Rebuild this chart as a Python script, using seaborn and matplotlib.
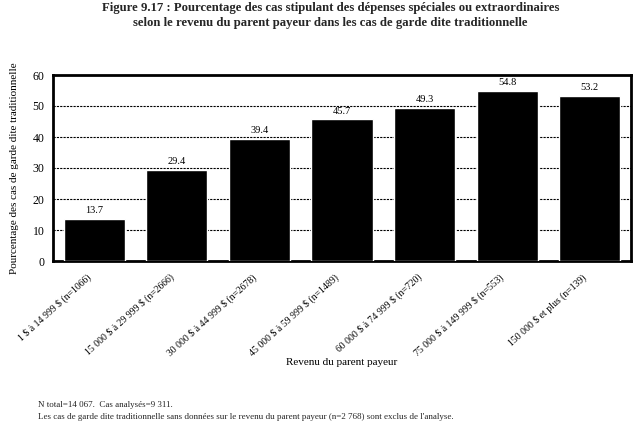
import matplotlib
matplotlib.use("Agg")
import matplotlib.pyplot as plt
import matplotlib.transforms as mtransforms
import seaborn as sns
import pandas as pd

categories = [
    "1 $ à 14 999 $ (n=1066)",
    "15 000 $ à 29 999 $ (n=2666)",
    "30 000 $ à 44 999 $ (n=2678)",
    "45 000 $ à 59 999 $ (n=1489)",
    "60 000 $ à 74 999 $ (n=720)",
    "75 000 $ à 149 999 $ (n=553)",
    "150 000 $ et plus (n=139)",
]
values = [13.7, 29.4, 39.4, 45.7, 49.3, 54.8, 53.2]
yticks = [0, 10, 20, 30, 40, 50, 60]

sns.set_theme(style="white")
plt.rcParams["font.family"] = ["Liberation Serif", "DejaVu Serif"]
plt.rcParams["text.parse_math"] = False

df = pd.DataFrame({"cat": categories, "val": values})

fig = plt.figure(figsize=(6.36, 4.23), dpi=100)
ax = fig.add_axes([53 / 636, 1 - 261 / 423, 578 / 636, 186 / 423])

sns.barplot(data=df, x="cat", y="val", color="black", width=0.74,
            saturation=1, ax=ax, zorder=3)

ax.set_ylim(0, 60)
ax.set_yticks(yticks)
ax.yaxis.grid(True, color="black", linestyle=(0, (2, 1)), linewidth=0.8, zorder=0)
ax.xaxis.grid(False)
for s in ax.spines.values():
    s.set_color("black")
    s.set_linewidth(2)

for i, v in enumerate(values):
    ax.text(i, v + 1.2, f"{v:.1f}", ha="center", va="bottom", fontsize=7.5, color="black")

ax.tick_params(axis="y", labelsize=8.5, length=0, pad=6, colors="black")
ax.tick_params(axis="x", labelsize=7, length=0, pad=8, colors="black")
ax.set_xticks(range(len(categories)))
ax.set_xticklabels(categories, rotation=42, ha="right", rotation_mode="anchor")
shift = mtransforms.ScaledTranslation(-8 / 100, 0, fig.dpi_scale_trans)
for lab in ax.get_xticklabels():
    lab.set_transform(lab.get_transform() + shift)

ax.set_xlabel("Revenu du parent payeur", fontsize=8, color="black", labelpad=0)
ax.set_ylabel("Pourcentage des cas de garde dite traditionnelle", fontsize=8, color="black", labelpad=10)

fig.text(0.52, 1 - 2 / 423, "Figure 9.17 : Pourcentage des cas stipulant des dépenses spéciales ou extraordinaires\n"
         "selon le revenu du parent payeur dans les cas de garde dite traditionnelle",
         ha="center", va="top", fontsize=9.2, fontweight="bold", linespacing=1.3)

fig.text(38 / 636, 1 - 405 / 423, "N total=14 067.  Cas analysés=9 311.", fontsize=6.5, va="center")
fig.text(38 / 636, 1 - 417 / 423,
         "Les cas de garde dite traditionnelle sans données sur le revenu du parent payeur (n=2 768) sont exclus de l'analyse.",
         fontsize=6.5, va="center")

fig.savefig("out.png", dpi=100)
